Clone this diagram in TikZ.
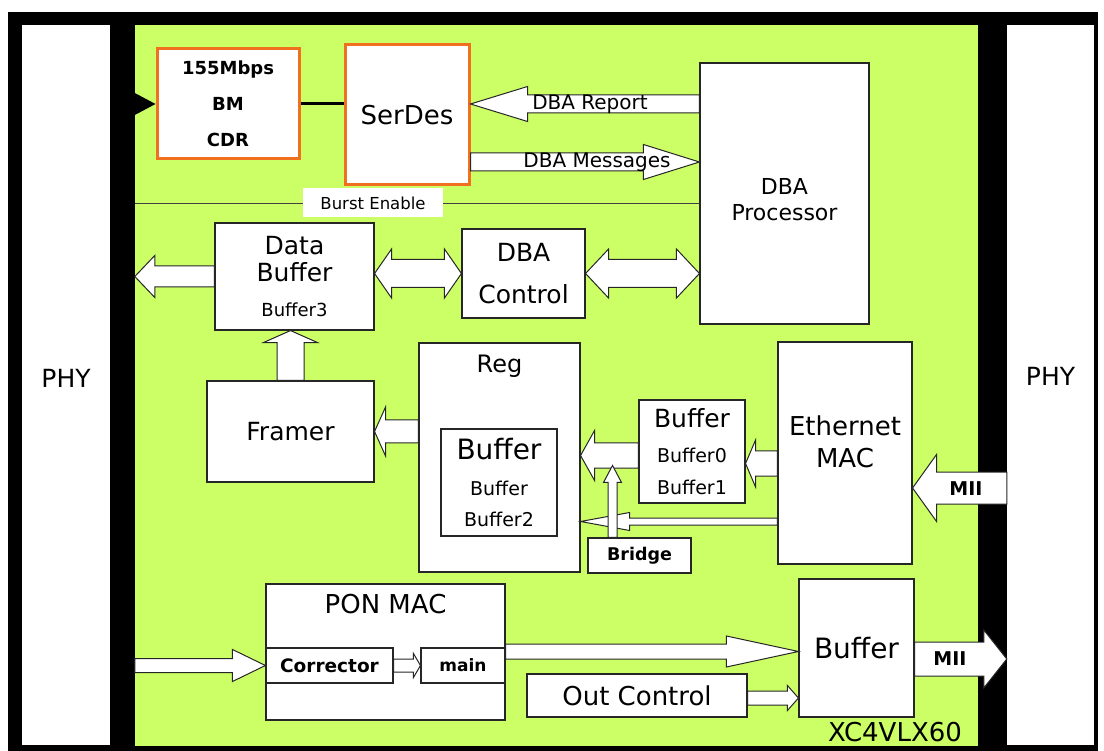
\documentclass[tikz,border=0pt]{standalone}
\usepackage{fontspec}
\setmainfont{DejaVu Sans}
\usetikzlibrary{calc}
\definecolor{fpgagreen}{RGB}{204,255,102}
\definecolor{cdrorange}{RGB}{240,112,32}
\newcommand\pxsize[1]{\fontsize{#1}{#1}\selectfont}
\tikzset{
  blockbox/.style={draw=black!85, fill=white, line width=1.1pt, inner sep=0pt, align=center},
  hotbox/.style={blockbox, draw=cdrorange, line width=3pt},
  blockarr/.style={draw=black!85, fill=white, line width=1pt, line join=miter},
  panel/.style={fill=white, inner sep=0pt},
  arrtxt/.style={inner sep=0pt, font=\pxsize{20}},
  miitxt/.style={inner sep=0pt, font=\bfseries\pxsize{19}},
  burstline/.style={draw=black!75, line width=0.8pt}
}
% block arrow: start, tip, shaft half width, head half width, head length
\newcommand\blockarrow[5]{%
  \coordinate (ba-a) at (#1);
  \coordinate (ba-b) at (#2);
  \coordinate (ba-h) at ($(ba-b)!#5pt!(ba-a)$);
  \draw[blockarr] ($(ba-a)!#3pt!90:(ba-b)$) -- ($(ba-h)!#3pt!90:(ba-b)$)
    -- ($(ba-h)!#4pt!90:(ba-b)$) -- (ba-b) -- ($(ba-h)!#4pt!-90:(ba-b)$)
    -- ($(ba-h)!#3pt!-90:(ba-b)$) -- ($(ba-a)!#3pt!-90:(ba-b)$) -- cycle;}
% two headed block arrow
\newcommand\dblarrow[5]{%
  \coordinate (ba-a) at (#1);
  \coordinate (ba-b) at (#2);
  \coordinate (ba-ha) at ($(ba-a)!#5pt!(ba-b)$);
  \coordinate (ba-hb) at ($(ba-b)!#5pt!(ba-a)$);
  \draw[blockarr] (ba-a) -- ($(ba-ha)!#4pt!90:(ba-b)$) -- ($(ba-ha)!#3pt!90:(ba-b)$)
    -- ($(ba-hb)!#3pt!90:(ba-b)$) -- ($(ba-hb)!#4pt!90:(ba-b)$) -- (ba-b)
    -- ($(ba-hb)!#4pt!-90:(ba-b)$) -- ($(ba-hb)!#3pt!-90:(ba-b)$)
    -- ($(ba-ha)!#3pt!-90:(ba-b)$) -- ($(ba-ha)!#4pt!-90:(ba-b)$) -- cycle;}

\begin{document}
\begin{tikzpicture}[x=1pt, y=-1pt, every node/.style={inner sep=0pt}]
  % board and frame
  \fill[white] (0,0) rectangle (1104,751);
  \fill[black] (8,12) rectangle (1098,751);
  \node[panel, minimum width=88, minimum height=720] (phyL) at (66,385) {};
  \node[panel, minimum width=87, minimum height=720] (phyR) at (1050.5,385) {};
  \node[fill=fpgagreen, minimum width=843, minimum height=721] (fpga) at (556.5,385.5) {};
  \node[font=\pxsize{25}] (phyLtxt) at ($(phyL)+(0,-7)$) {PHY};
  \node[font=\pxsize{25}] (phyRtxt) at ($(phyR)+(0,-9)$) {PHY};

  % top row
  \node[hotbox, minimum width=142, minimum height=110, font=\bfseries\fontsize{18}{36}\selectfont] (cdr) at (228,104) {155Mbps\\BM\\CDR};
  \node[hotbox, minimum width=124, minimum height=140, font=\pxsize{26}] (serdes) at (407,115) {SerDes};
  \node[blockbox, minimum width=169, minimum height=261] (dbaproc) at (784.5,193.5) {};
  \node[align=center, font=\fontsize{22}{26}\selectfont] (dbaproctxt) at ($(dbaproc)+(0,6.5)$) {DBA\\Processor};

  \coordinate (trib) at (fpga.west |- cdr.west);
  \fill[black] ($(trib)+(0,-11)$) -- (cdr.west) -- ($(trib)+(0,11)$) -- cycle;
  \draw[line width=3pt] (cdr.east) -- (serdes.west |- cdr.east);

  \node[fill=white, minimum width=140, minimum height=29, font=\pxsize{16.5}] (burst) at (373,203) {Burst Enable};
  \draw[burstline] (fpga.west |- burst.west) -- (burst.west);
  \draw[burstline] (burst.east) -- (dbaproc.west |- burst.east);

  % middle
  \node[blockbox, minimum width=159, minimum height=107, font=\fontsize{25}{27}\selectfont] (databuf) at (294.5,276.5) {Data\\Buffer\\[8pt]{\fontsize{18}{20}\selectfont Buffer3}};
  \node[blockbox, minimum width=123, minimum height=89, font=\fontsize{25}{42}\selectfont] (dbactl) at (523.5,273.5) {DBA\\Control};
  \node[blockbox, minimum width=167, minimum height=101, font=\pxsize{25}] (framer) at (290.5,431.5) {Framer};
  \node[blockbox, minimum width=161, minimum height=229] (reg) at (499.5,457.5) {};
  \node[font=\pxsize{24}] (regtxt) at ($(reg.north)+(0,24)$) {Reg};
  \node[blockbox, minimum width=116, minimum height=107, font=\fontsize{19}{31}\selectfont] (regbuf) at (499,482.5) {{\fontsize{28}{30}\selectfont Buffer}\\[5pt]Buffer\\Buffer2};
  \node[blockbox, minimum width=106, minimum height=103, font=\fontsize{19}{32}\selectfont] (ebuf) at (692,451.5) {{\fontsize{25}{27}\selectfont Buffer}\\[3pt]Buffer0\\Buffer1};
  \node[blockbox, minimum width=134, minimum height=222] (ethmac) at (845,453) {};
  \node[align=center, font=\fontsize{26}{32}\selectfont] (ethmactxt) at ($(ethmac)+(0,-11)$) {Ethernet\\MAC};
  \node[blockbox, minimum width=103, minimum height=35, font=\bfseries\pxsize{17.5}] (bridge) at (639.5,555.5) {Bridge};

  % bottom
  \node[blockbox, minimum width=239, minimum height=136] (ponmac) at (385.5,652) {};
  \node[font=\pxsize{26}] (ponmactxt) at ($(ponmac.north)+(0,21)$) {PON MAC};
  \node[blockbox, minimum width=127, minimum height=35, font=\bfseries\pxsize{18.5}] (corr) at (329.5,665.5) {Corrector};
  \node[blockbox, minimum width=84, minimum height=35, font=\bfseries\pxsize{17}] (main) at (463,665.5) {main};
  \node[blockbox, minimum width=220, minimum height=43, font=\pxsize{26}] (outctl) at (637,695.5) {Out Control};
  \node[blockbox, minimum width=115, minimum height=138, font=\pxsize{28}] (obuf) at (856.5,648) {Buffer};
  \node[font=\pxsize{26}] (chip) at (895,732) {XC4VLX60};

  % block arrows
  \blockarrow{dbaproc.west |- cdr.east}{serdes.east |- cdr.east}{9}{17.5}{57}
  \blockarrow{$(serdes.east)+(0,47)$}{$(dbaproc.west)+(0,-31.5)$}{9}{17.5}{56}
  \blockarrow{databuf.west}{fpga.west |- databuf.west}{10.5}{21}{20}
  \dblarrow{databuf.east |- dbactl.west}{dbactl.west}{14}{24.5}{17}
  \dblarrow{dbactl.east}{dbaproc.west |- dbactl.east}{14}{24.5}{23}
  \blockarrow{framer.north}{framer.north |- databuf.south}{13.5}{27}{12}
  \blockarrow{reg.west |- framer.east}{framer.east}{11.5}{24.5}{11}
  \blockarrow{$(ebuf.west)+(0,4)$}{$(reg.east)+(0,-2)$}{12.5}{25}{14}
  \blockarrow{$(ethmac.west)+(0,10.5)$}{$(ebuf.east)+(0,12)$}{12.5}{23.5}{10}
  \blockarrow{$(ethmac.west)+(0,68.5)$}{$(reg.east)+(0,64)$}{3.5}{9}{49}
  \coordinate (merge) at ($(bridge.north)+(-27,-72)$);
  \blockarrow{$(bridge.north)+(-27,0)$}{merge}{4.5}{9}{17}
  \blockarrow{$(phyR.west)+(0,103)$}{$(ethmac.east)+(0,35)$}{16}{33.5}{24}
  \blockarrow{fpga.west |- corr.west}{corr.west}{7}{16}{33}
  \blockarrow{corr.east}{main.west}{6.5}{12}{7}
  \blockarrow{$(main.east)+(0,-14)$}{$(obuf.west)+(0,3.5)$}{7.5}{15.5}{72}
  \blockarrow{$(outctl.east)+(0,2.5)$}{$(obuf.west)+(0,50)$}{7}{12.5}{11}
  \blockarrow{$(obuf.east)+(0,11)$}{$(phyR.west)+(0,274)$}{17}{29}{23}

  % arrow labels
  \node[arrtxt] (reptxt) at (590,104) {DBA Report};
  \node[arrtxt] (msgtxt) at (597,162) {DBA Messages};
  \node[miitxt] (miiin) at (966,489) {MII};
  \node[miitxt] (miiout) at (950,659) {MII};
\end{tikzpicture}
\end{document}
